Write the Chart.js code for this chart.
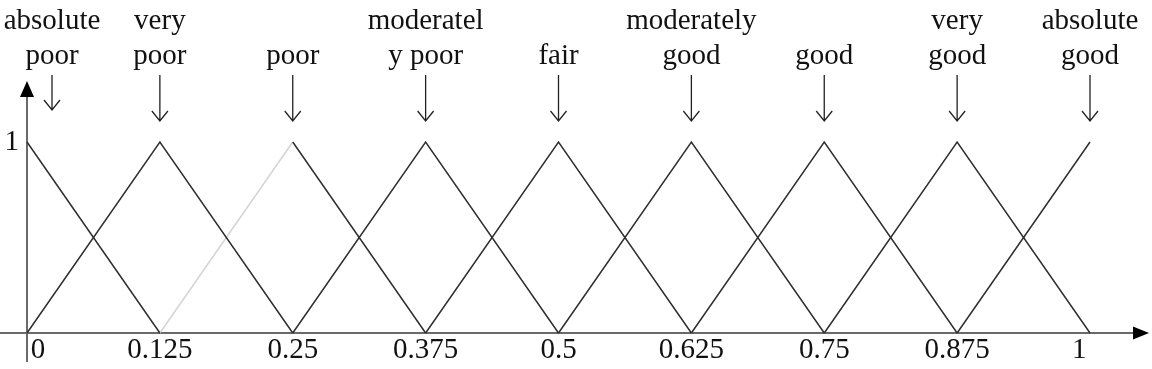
<!DOCTYPE html>
<html>
<head>
<meta charset="utf-8">
<title>Membership functions</title>
<script src="https://cdn.jsdelivr.net/npm/chart.js@4.4.1/dist/chart.umd.min.js"></script>
<style>
  html, body { margin: 0; padding: 0; background: #fff; }
  #wrap { width: 1152px; height: 369px; position: relative; }
</style>
</head>
<body>
<div id="wrap"><canvas id="chart"></canvas></div>
<script>
// linguistic terms, peak of each triangle and the label shown above it
const termNames = [
  ['absolute', 'poor'],
  ['very', 'poor'],
  ['poor'],
  ['moderatel', 'y poor'],
  ['fair'],
  ['moderately', 'good'],
  ['good'],
  ['very', 'good'],
  ['absolute', 'good']
]
const termPeaks = [0, 0.125, 0.25, 0.375, 0.5, 0.625, 0.75, 0.875, 1]

// corner points of each membership function
const termX = [
  [0, 0.125],
  [0, 0.125, 0.25],
  [0.125, 0.25, 0.375],
  [0.25, 0.375, 0.5],
  [0.375, 0.5, 0.625],
  [0.5, 0.625, 0.75],
  [0.625, 0.75, 0.875],
  [0.75, 0.875, 1],
  [0.875, 1]
]
const termY = [
  [1, 0],
  [0, 1, 0],
  [0, 1, 0],
  [0, 1, 0],
  [0, 1, 0],
  [0, 1, 0],
  [0, 1, 0],
  [0, 1, 0],
  [0, 1]
]

const tickLabels = ['0', '0.125', '0.25', '0.375', '0.5', '0.625', '0.75', '0.875', '1']

const serif = '"Liberation Serif", "Times New Roman", serif'
const lineColor = '#2e2e2e'
const axisColor = '#6a6a6a'

const datasets = termX.map(function (xs, i) {
  return {
    label: termNames[i].join(' '),
    data: xs.map((x, j) => ({ x: x, y: termY[i][j] })),
    borderColor: lineColor,
    borderWidth: 1.5,
    pointRadius: 0,
    tension: 0,
    fill: false,
    clip: false,
    // the rising edge of "poor" is very faint in the figure
    segment: i === 2
      ? { borderColor: ctx => ctx.p0DataIndex === 0 ? '#d4d4d4' : undefined }
      : undefined
  }
})

/* axes with arrow heads */
const axisArrows = {
  id: 'axisArrows',
  beforeDatasetsDraw(chart) {
    const ctx = chart.ctx
    const xs = chart.scales.x
    const ys = chart.scales.y
    const x0 = xs.getPixelForValue(0)
    const y0 = ys.getPixelForValue(0)
    ctx.save()
    ctx.strokeStyle = axisColor
    ctx.fillStyle = '#000'
    ctx.lineWidth = 2

    // horizontal axis
    ctx.beginPath()
    ctx.moveTo(0, y0)
    ctx.lineTo(1136, y0)
    ctx.stroke()
    ctx.beginPath()
    ctx.moveTo(1149, y0)
    ctx.lineTo(1133, y0 - 6.5)
    ctx.lineTo(1133, y0 + 6.5)
    ctx.closePath()
    ctx.fill()

    // vertical axis
    ctx.beginPath()
    ctx.moveTo(x0, 362)
    ctx.lineTo(x0, 95)
    ctx.stroke()
    ctx.beginPath()
    ctx.moveTo(x0, 81)
    ctx.lineTo(x0 - 7, 97)
    ctx.lineTo(x0 + 7, 97)
    ctx.closePath()
    ctx.fill()
    ctx.restore()
  }
}

/* term names with a down arrow pointing at each peak */
const termLabels = {
  id: 'termLabels',
  afterDraw(chart) {
    const ctx = chart.ctx
    const xs = chart.scales.x
    const left = chart.chartArea.left
    ctx.save()
    ctx.font = '29px ' + serif
    ctx.fillStyle = '#111'
    ctx.textAlign = 'center'
    ctx.textBaseline = 'alphabetic'
    termPeaks.forEach(function (p, i) {
      const cx = Math.max(xs.getPixelForValue(p), left + 25)
      const lines = termNames[i]
      for (let k = 0; k < lines.length; k++) {
        const base = 64 - (lines.length - 1 - k) * 35
        ctx.fillText(lines[k], cx, base)
      }
      const top = 75
      const bottom = i === 0 ? 110 : 121
      ctx.strokeStyle = '#222'
      ctx.lineWidth = 1.3
      ctx.beginPath()
      ctx.moveTo(cx, top)
      ctx.lineTo(cx, bottom)
      ctx.moveTo(cx - 8, bottom - 10)
      ctx.lineTo(cx, bottom)
      ctx.lineTo(cx + 8, bottom - 10)
      ctx.stroke()
    })
    ctx.restore()
  }
}

new Chart(document.getElementById('chart'), {
  type: 'line',
  data: { datasets: datasets },
  options: {
    responsive: true,
    maintainAspectRatio: false,
    animation: false,
    layout: { padding: { top: 142, right: 62, left: 0, bottom: 0 } },
    plugins: {
      legend: { display: false },
      tooltip: { enabled: false }
    },
    scales: {
      x: {
        type: 'linear',
        min: 0,
        max: 1,
        grid: { display: false, drawTicks: false },
        border: { display: false },
        ticks: {
          stepSize: 0.125,
          autoSkip: false,
          maxRotation: 0,
          padding: 0,
          color: '#111',
          font: { family: serif, size: 29 },
          // "0" sits right of the vertical axis, "1" a little left of its tick
          callback: function (v, i) {
            if (i === 0) return '   ' + tickLabels[i]
            if (i === tickLabels.length - 1) return tickLabels[i] + '   '
            return tickLabels[i]
          }
        },
        afterFit: scale => { scale.height = 36 }
      },
      y: {
        min: 0,
        max: 1,
        grid: { display: false, drawTicks: false },
        border: { display: false },
        ticks: {
          stepSize: 1,
          padding: 8,
          color: '#111',
          font: { family: serif, size: 29 },
          callback: v => v === 1 ? '1' : ''
        },
        afterFit: scale => { scale.width = 27 }
      }
    }
  },
  plugins: [axisArrows, termLabels]
})
</script>
</body>
</html>
